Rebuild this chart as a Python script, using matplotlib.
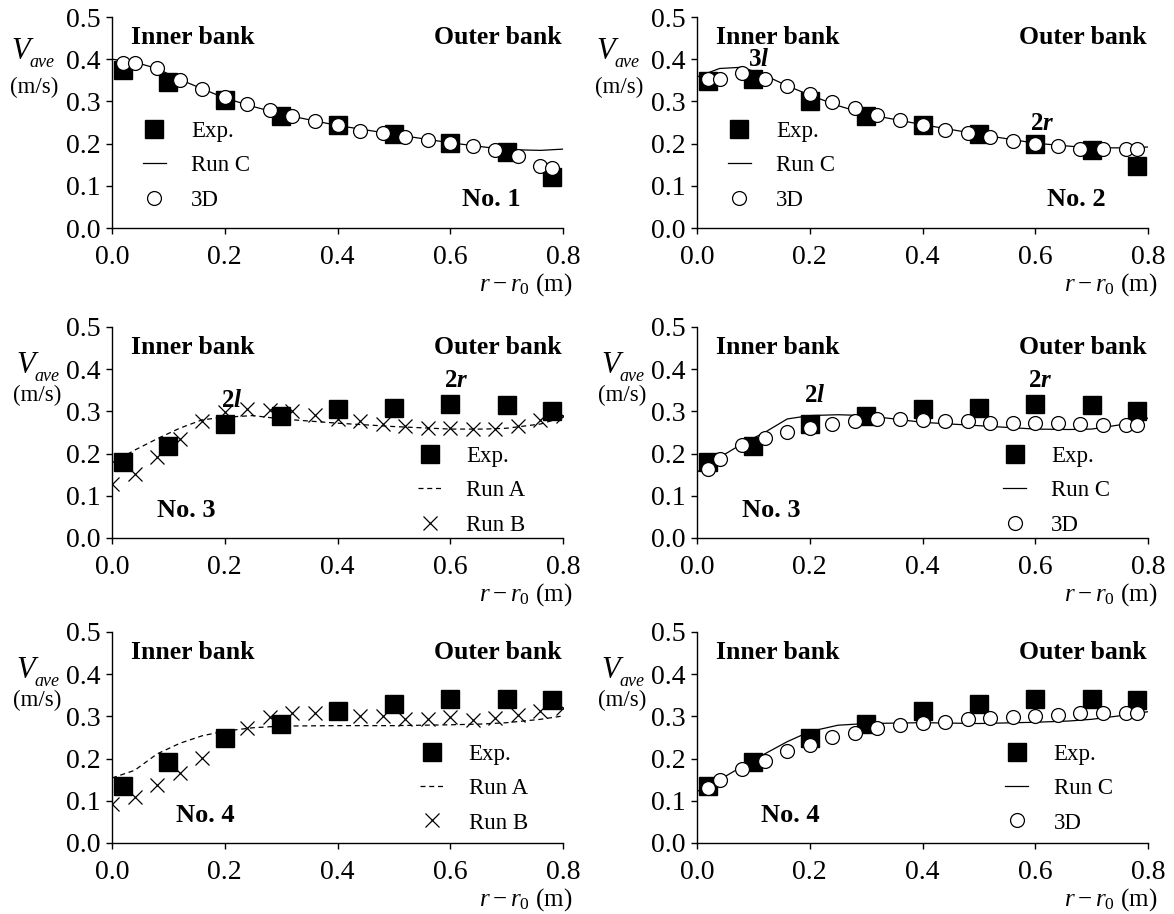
import numpy as np
import matplotlib
matplotlib.use("Agg")
import matplotlib.pyplot as plt
from matplotlib.transforms import offset_copy

plt.rcParams['font.family'] = ['Liberation Serif', 'DejaVu Serif']
plt.rcParams['mathtext.fontset'] = 'custom'
plt.rcParams['mathtext.rm'] = 'Liberation Serif'
plt.rcParams['mathtext.it'] = 'Liberation Serif:italic'
plt.rcParams['mathtext.bf'] = 'Liberation Serif:bold'
plt.rcParams['mathtext.bfit'] = 'Liberation Serif:bold:italic'

# ---- datos ----
x_exp = [0.02, 0.1, 0.2, 0.3, 0.4, 0.5, 0.6, 0.7, 0.78]
x_3d = [0.02, 0.04, 0.08, 0.12, 0.16, 0.2, 0.24, 0.28, 0.32, 0.36, 0.4,
        0.44, 0.48, 0.52, 0.56, 0.6, 0.64, 0.68, 0.72, 0.76, 0.78]
x_runb = [0.0, 0.04, 0.08, 0.12, 0.16, 0.2, 0.24, 0.28, 0.32, 0.36, 0.4,
          0.44, 0.48, 0.52, 0.56, 0.6, 0.64, 0.68, 0.72, 0.76, 0.8]
x_line = [0.0, 0.04, 0.08, 0.12, 0.16, 0.2, 0.25, 0.3, 0.4, 0.5, 0.6, 0.66, 0.7, 0.76, 0.8]

# No. 1
exp1 = [0.375, 0.345, 0.303, 0.265, 0.243, 0.223, 0.201, 0.180, 0.122]
d3_1 = [0.391, 0.391, 0.378, 0.351, 0.330, 0.310, 0.294, 0.280, 0.266, 0.253, 0.243,
        0.231, 0.224, 0.216, 0.208, 0.201, 0.195, 0.186, 0.171, 0.148, 0.142]
runc1 = [0.400, 0.393, 0.378, 0.352, 0.330, 0.308, 0.288, 0.270, 0.243, 0.222, 0.202,
         0.192, 0.186, 0.184, 0.187]
# No. 2
exp2 = [0.348, 0.352, 0.300, 0.265, 0.243, 0.223, 0.200, 0.186, 0.146]
d3_2 = [0.354, 0.354, 0.367, 0.352, 0.336, 0.318, 0.299, 0.284, 0.269, 0.257, 0.245,
        0.233, 0.225, 0.216, 0.207, 0.200, 0.194, 0.188, 0.187, 0.187, 0.187]
runc2 = [0.358, 0.378, 0.381, 0.362, 0.337, 0.315, 0.290, 0.270, 0.245, 0.222, 0.201,
         0.194, 0.190, 0.190, 0.192]
# No. 3
exp3 = [0.181, 0.219, 0.270, 0.290, 0.306, 0.309, 0.318, 0.314, 0.302]
runb3 = [0.128, 0.152, 0.193, 0.235, 0.276, 0.299, 0.306, 0.304, 0.300, 0.291, 0.282,
         0.276, 0.270, 0.265, 0.261, 0.260, 0.258, 0.258, 0.266, 0.280, 0.288]
runa3 = [0.178, 0.208, 0.235, 0.260, 0.280, 0.286, 0.290, 0.282, 0.272, 0.264, 0.258,
         0.258, 0.260, 0.270, 0.286]
d3_3 = [0.164, 0.187, 0.221, 0.237, 0.250, 0.261, 0.270, 0.278, 0.282, 0.282, 0.280,
        0.278, 0.276, 0.272, 0.272, 0.272, 0.272, 0.270, 0.268, 0.268, 0.268]
runc3 = [0.156, 0.191, 0.223, 0.250, 0.282, 0.290, 0.292, 0.290, 0.274, 0.266, 0.258,
         0.257, 0.258, 0.270, 0.284]
# No. 4
exp4 = [0.136, 0.191, 0.248, 0.282, 0.312, 0.329, 0.340, 0.341, 0.339]
runb4 = [0.093, 0.110, 0.138, 0.165, 0.201, 0.245, 0.273, 0.299, 0.307, 0.309, 0.310,
         0.301, 0.301, 0.293, 0.294, 0.298, 0.291, 0.295, 0.303, 0.313, 0.319]
runa4 = [0.154, 0.172, 0.211, 0.236, 0.254, 0.265, 0.273, 0.277, 0.278, 0.278, 0.280,
         0.282, 0.285, 0.293, 0.301]
d3_4 = [0.130, 0.150, 0.175, 0.195, 0.217, 0.232, 0.250, 0.261, 0.272, 0.280, 0.285,
        0.287, 0.293, 0.297, 0.299, 0.302, 0.303, 0.307, 0.309, 0.309, 0.307]
runc4 = [0.122, 0.150, 0.181, 0.211, 0.240, 0.264, 0.279, 0.283, 0.285, 0.283, 0.286,
         0.289, 0.293, 0.303, 0.311]

fig = plt.figure(figsize=(11.74, 9.14), dpi=100)

izq = [0.0954, 0.5937]
abajo = [0.7505, 0.4114, 0.0777]
ancho, alto = 0.3842, 0.2309

paneles = [
    # (fila, col, exp, modelo1, estilo, modelo2, tipo, No., etiquetas)
    (0, 0, exp1, runc1, 'C', d3_1, '3D', 'No. 1', []),
    (0, 1, exp2, runc2, 'C', d3_2, '3D', 'No. 2', [('3', 'l', 0.09, 0.398), ('2', 'r', 0.59, 0.247)]),
    (1, 0, exp3, runa3, 'A', runb3, 'B', 'No. 3', [('2', 'l', 0.193, 0.325), ('2', 'r', 0.588, 0.372)]),
    (1, 1, exp3, runc3, 'C', d3_3, '3D', 'No. 3', [('2', 'l', 0.19, 0.337), ('2', 'r', 0.587, 0.372)]),
    (2, 0, exp4, runa4, 'A', runb4, 'B', 'No. 4', []),
    (2, 1, exp4, runc4, 'C', d3_4, '3D', 'No. 4', []),
]

for fila, col, ye, ym, estilo, y2, tipo, nombre, etiq in paneles:
    ax = fig.add_axes([izq[col], abajo[fila], ancho, alto])
    if estilo == 'C':
        ax.plot(x_line, ym, '-', color='black', lw=0.9, label='Run C', zorder=2)
    else:
        ax.plot(x_line, ym, '--', color='black', lw=0.9, dashes=(4, 3), label='Run A', zorder=2)
    ax.plot(x_exp, ye, 's', color='black', ms=13, label='Exp.', zorder=3)
    if tipo == '3D':
        ax.plot(x_3d, y2, 'o', mfc='white', mec='black', mew=0.9, ms=10, label='3D', zorder=4)
    else:
        ax.plot(x_runb, y2, 'x', color='black', mew=0.9, ms=10.5, label='Run B', zorder=4)

    ax.set_xlim(0, 0.8)
    ax.set_ylim(0, 0.5)
    ax.set_xticks([0.0, 0.2, 0.4, 0.6, 0.8])
    ax.set_yticks([0.0, 0.1, 0.2, 0.3, 0.4, 0.5])
    ax.xaxis.set_major_formatter(matplotlib.ticker.FormatStrFormatter('%.1f'))
    ax.yaxis.set_major_formatter(matplotlib.ticker.FormatStrFormatter('%.1f'))
    ax.tick_params(direction='out', length=4.5, width=1, labelsize=20)
    ax.tick_params(axis='x', pad=8)
    ax.tick_params(axis='y', pad=4)
    for s in ['top', 'right']:
        ax.spines[s].set_visible(False)
    for s in ['left', 'bottom']:
        ax.spines[s].set_linewidth(1)
    ax.patch.set_alpha(0)

    # orden de la leyenda
    hs, ls = ax.get_legend_handles_labels()
    orden = [ls.index('Exp.'), 0, 2]
    hs = [hs[i] for i in orden]
    ls = [ls[i] for i in orden]
    if fila == 0:
        anc = (0.055, 0.254)
    elif fila == 1:
        anc = (0.543, 0.218)
    else:
        anc = (0.547, 0.235)
    ax.legend(hs, ls, loc='upper left', bbox_to_anchor=anc, bbox_transform=ax.transData,
              frameon=False, fontsize=16.5, numpoints=1, handlelength=1.0,
              handletextpad=1.1, labelspacing=0.58, borderpad=0, borderaxespad=0)

    ax.text(0.033, 0.452, 'Inner bank', fontsize=18.5, fontweight='bold', ha='left', va='center')
    ax.text(0.797, 0.452, 'Outer bank', fontsize=18.5, fontweight='bold', ha='right', va='center')

    if fila == 0:
        ax.text(0.672, 0.067, nombre, fontsize=19, fontweight='bold', ha='center', va='center')
    elif fila == 1:
        ax.text(0.080, 0.066, nombre, fontsize=19, fontweight='bold', ha='left', va='center')
    else:
        ax.text(0.113, 0.065, nombre, fontsize=19, fontweight='bold', ha='left', va='center')

    for num, let, xt, yt in etiq:
        ax.text(xt, yt, r'$\mathbf{%s}\mathbfit{%s}$' % (num, let), fontsize=18,
                ha='left', va='center')

    # etiquetas de ejes: V con subindice "ave" aparte
    if fila == 0:
        vx, vy, mx, my = -0.222, 0.835, -0.226, 0.665
    else:
        vx, vy, mx, my = -0.212, 0.815, -0.22, 0.675
    ax.text(vx, vy, 'V', fontsize=22, style='italic', transform=ax.transAxes,
            ha='left', va='center')
    tr = offset_copy(ax.transAxes, fig=fig, x=18, y=-11, units='dots')
    ax.text(vx, vy, 'ave', fontsize=13, style='italic', transform=tr,
            ha='left', va='center')
    ax.text(mx, my, '(m/s)', fontsize=16.5, transform=ax.transAxes,
            ha='left', va='center')
    ax.text(1.02, -0.266, r'$r-r_0$ (m)', fontsize=18, transform=ax.transAxes,
            ha='right', va='center')

fig.savefig('out.png', dpi=100)
